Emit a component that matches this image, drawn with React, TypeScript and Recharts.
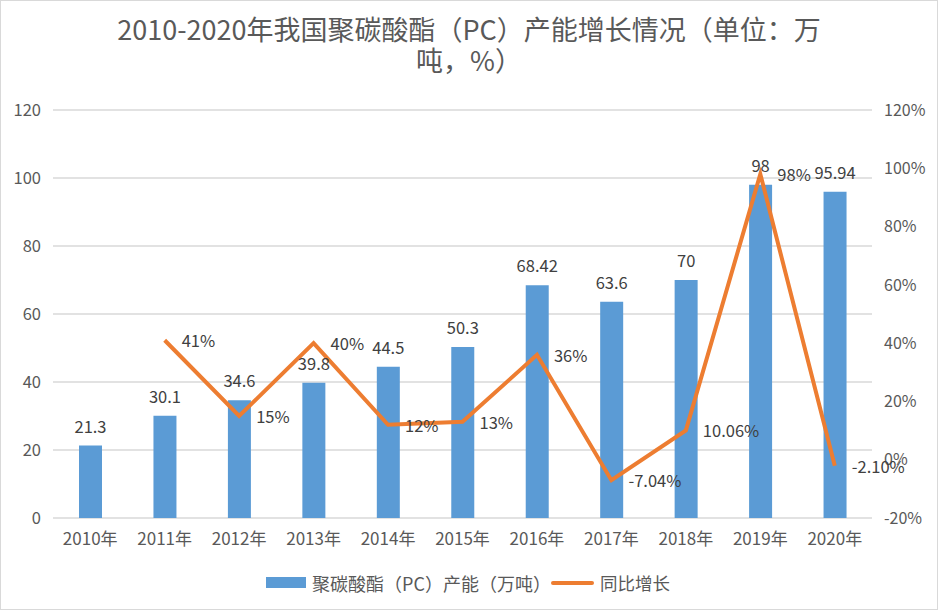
import React from "react";
import {
  ComposedChart,
  Bar,
  Line,
  XAxis,
  YAxis,
  CartesianGrid,
  LabelList,
} from "recharts";

const categories = ["2010年", "2011年", "2012年", "2013年", "2014年", "2015年", "2016年", "2017年", "2018年", "2019年", "2020年"];
const capacity = [21.3, 30.1, 34.6, 39.8, 44.5, 50.3, 68.42, 63.6, 70, 98, 95.94];
const capacityLabels = ["21.3", "30.1", "34.6", "39.8", "44.5", "50.3", "68.42", "63.6", "70", "98", "95.94"];
const growth: (number | null)[] = [null, 41, 15, 40, 12, 13, 36, -7.04, 10.06, 98, -2.1];
const growthLabels = ["", "41%", "15%", "40%", "12%", "13%", "36%", "-7.04%", "10.06%", "98%", "-2.10%"];
const leftTicks = [0, 20, 40, 60, 80, 100, 120];
const rightTicks = [-20, 0, 20, 40, 60, 80, 100, 120];

const barName = "聚碳酸酯（PC）产能（万吨）";
const lineName = "同比增长";
const titleLine1 = "2010-2020年我国聚碳酸酯（PC）产能增长情况（单位：万";
const titleLine2 = "吨，%）";

const data = categories.map((c, i) => ({
  name: c,
  capacity: capacity[i],
  capLabel: capacityLabels[i],
  growth: growth[i],
  growthLabel: growthLabels[i],
}));

const FONT = '"Noto Sans CJK SC", "Noto Sans", sans-serif';

const GrowthLabel = (props: any) => {
  const { x, y, index } = props;
  const t = growthLabels[index];
  if (!t || x == null || y == null) return null;
  return (
    <text x={x + 17} y={y} dominantBaseline="central" textAnchor="start" fontSize={16.5} fill="#404040" fontFamily={FONT}>
      {t}
    </text>
  );
};

export default function App() {
  return (
    <div
      style={{
        position: "absolute",
        left: 0,
        top: 0,
        width: 938,
        height: 610,
        background: "#fff",
        fontFamily: FONT,
        overflow: "hidden",
      }}
    >
      <div
        style={{
          position: "absolute",
          left: 0,
          top: 13,
          width: 938,
          textAlign: "center",
          fontSize: 27,
          lineHeight: "31px",
          color: "#595959",
        }}
      >
        <div>{titleLine1}</div>
        <div>{titleLine2}</div>
      </div>
      <div style={{ position: "absolute", left: 0, top: 0 }}>
        <ComposedChart
          width={938}
          height={610}
          data={data}
          margin={{ top: 110, right: 6, bottom: 62, left: 8 }}
          style={{ fontFamily: FONT }}
        >
          <CartesianGrid yAxisId="left" vertical={false} stroke="#d9d9d9" strokeWidth={1.5} />
          <XAxis
            dataKey="name"
            axisLine={false}
            tickLine={false}
            tickSize={0}
            tickMargin={15}
            height={30}
            interval={0}
            tick={{ fontSize: 17, fill: "#595959" }}
          />
          <YAxis
            yAxisId="left"
            orientation="left"
            domain={[0, 120]}
            ticks={leftTicks}
            axisLine={false}
            tickLine={false}
            tickSize={0}
            tickMargin={12}
            width={45}
            tick={{ fontSize: 16.5, fill: "#595959" }}
          />
          <YAxis
            yAxisId="right"
            orientation="right"
            domain={[-20, 120]}
            ticks={rightTicks}
            axisLine={false}
            tickLine={false}
            tickSize={0}
            tickMargin={12}
            width={60}
            tickFormatter={(v: number) => `${v}%`}
            tick={{ fontSize: 16, fill: "#595959" }}
          />
          <Bar yAxisId="left" dataKey="capacity" name={barName} fill="#5B9BD5" barSize={23} isAnimationActive={false}>
            <LabelList dataKey="capLabel" position="top" offset={13} fontSize={16.5} fill="#404040" fontFamily={FONT} />
          </Bar>
          <Line
            yAxisId="right"
            dataKey="growth"
            name={lineName}
            stroke="#ED7D31"
            strokeWidth={4}
            dot={false}
            activeDot={false}
            connectNulls={false}
            isAnimationActive={false}
          >
            <LabelList dataKey="growthLabel" content={GrowthLabel} />
          </Line>
        </ComposedChart>
      </div>
      <div style={{ position: "absolute", left: 266, top: 577, width: 40, height: 11, background: "#5B9BD5" }} />
      <div
        style={{
          position: "absolute",
          left: 312,
          top: 571,
          fontSize: 18,
          lineHeight: "24px",
          color: "#595959",
          whiteSpace: "nowrap",
        }}
      >
        {barName}
      </div>
      <div style={{ position: "absolute", left: 551, top: 581, width: 43, height: 4, borderRadius: 2, background: "#ED7D31" }} />
      <div
        style={{
          position: "absolute",
          left: 600,
          top: 571,
          fontSize: 17.5,
          lineHeight: "24px",
          color: "#595959",
          whiteSpace: "nowrap",
        }}
      >
        {lineName}
      </div>
      <div style={{ position: "absolute", left: 0, top: 0, width: 936, height: 608, border: "1px solid #d9d9d9", pointerEvents: "none" }} />
    </div>
  );
}
